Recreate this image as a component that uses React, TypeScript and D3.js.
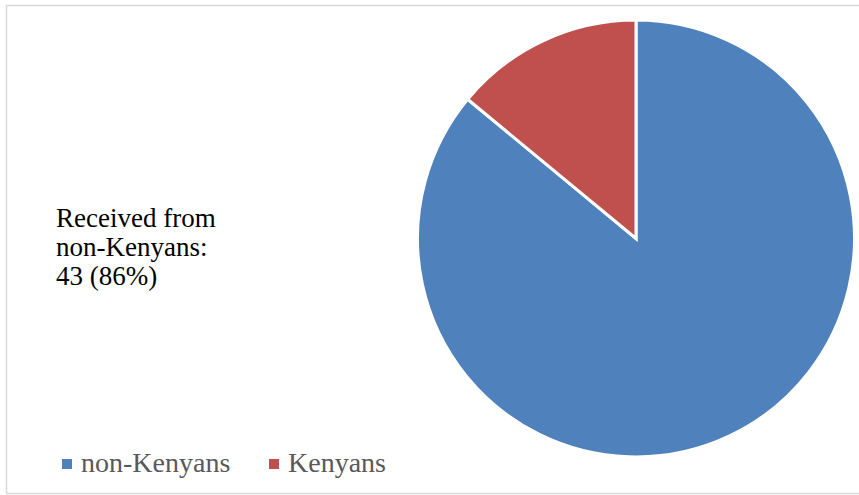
import React from "react";
import * as d3 from "d3";

const categories = ["non-Kenyans", "Kenyans"];
const values = [43, 7];
const colors = ["#4F81BD", "#C0504D"];

const FONT = "'Liberation Serif'";

export default function App() {
  const W = 859, H = 495;
  const cx = 636, cy = 238.5, r = 218.5;
  const total = d3.sum(values);
  const pie = d3.pie<number>().sort(null).value((d) => d);
  const arcs = pie(values);
  const arcGen = d3.arc<d3.PieArcDatum<number>>().innerRadius(0).outerRadius(r);
  const pct = Math.round((values[0] / total) * 100);
  const labelLines = ["Received from", `${categories[0]}:`, `${values[0]} (${pct}%)`];
  const legendX = [62, 269];
  return (
    <svg width={W} height={H} style={{ position: "absolute", left: 0, top: 0, fontFamily: FONT }}>
      <rect x={0} y={0} width={W} height={H} fill="#fff" />
      <rect x={6.5} y={5.5} width={900} height={488} fill="none" stroke="#d9d9d9" strokeWidth={1.5} />
      <g transform={`translate(${cx},${cy})`}>
        {arcs.map((a, i) => (
          <path key={i} d={arcGen(a) || ""} fill={colors[i]} stroke="#fff" strokeWidth={3} strokeLinejoin="miter" />
        ))}
      </g>
      {labelLines.map((t, i) => (
        <text key={"l" + i} x={56} y={227 + i * 29} style={{ fontFamily: FONT, fontSize: "27px", fill: "#000" }}>
          {t}
        </text>
      ))}
      {categories.map((c, i) => (
        <g key={c}>
          <rect x={legendX[i]} y={459} width={10} height={10} fill={colors[i]} />
          <text x={legendX[i] + 19} y={472} style={{ fontFamily: FONT, fontSize: "28px", fill: "#595959" }}>
            {c}
          </text>
        </g>
      ))}
    </svg>
  );
}
